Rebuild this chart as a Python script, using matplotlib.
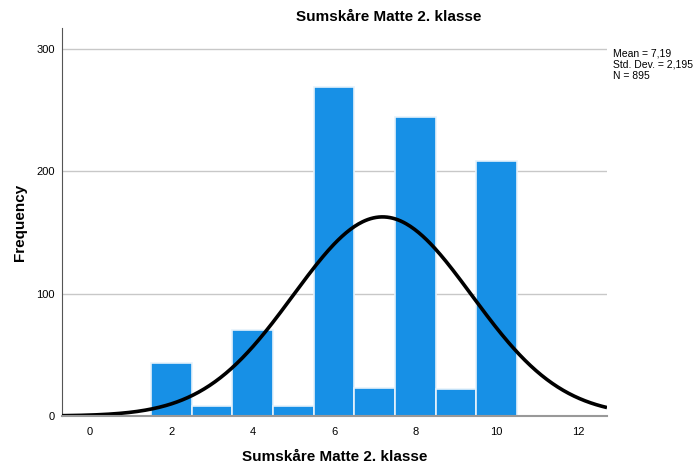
import numpy as np
import matplotlib
matplotlib.use("Agg")
import matplotlib.pyplot as plt

plt.rcParams['font.family'] = ['Liberation Sans', 'DejaVu Sans']

# Data
bin_centers = [2, 3, 4, 5, 6, 7, 8, 9, 10]
frequencies = [43, 8, 70, 8, 269, 23, 244, 22, 208]
mean_val = 7.19
std_val = 2.195
n_val = 895
x_ticks = [0, 2, 4, 6, 8, 10, 12]
y_ticks = [0, 100, 200, 300]

fig = plt.figure(figsize=(6.95, 4.65), dpi=100)
ax = fig.add_axes([62/695, 49/465, (607-62)/695, (416-28)/465])

ax.bar(bin_centers, frequencies, width=1.0, color='#1790E6', edgecolor='#E6F2FB',
       linewidth=1.2, zorder=2)

xs = np.linspace(-0.69, 12.71, 400)
ys = n_val * 1.0 / (std_val * np.sqrt(2 * np.pi)) * np.exp(-0.5 * ((xs - mean_val) / std_val) ** 2)
ax.plot(xs, ys, color='black', linewidth=2.6, zorder=3, solid_capstyle='butt')

ax.set_xlim(-0.69, 12.71)
ax.set_ylim(0, 317)
ax.set_xticks(x_ticks)
ax.set_yticks(y_ticks)
ax.tick_params(length=0, labelsize=8, pad=8)
ax.tick_params(axis='y', pad=5)
for y in y_ticks[1:]:
    ax.axhline(y, color='#C8C8C8', linewidth=1.0, zorder=1)

for s in ['top', 'right']:
    ax.spines[s].set_visible(False)
ax.spines['left'].set_color('#555555')
ax.spines['left'].set_linewidth(0.8)
ax.spines['bottom'].set_color('#999999')
ax.spines['bottom'].set_linewidth(1.5)
ax.spines['bottom'].set_zorder(4)

ax.set_xlabel('Sumskåre Matte 2. klasse', fontsize=11, fontweight='bold', labelpad=9)
ax.set_ylabel('Frequency', fontsize=11, fontweight='bold', labelpad=7)

fig.text(389/695, 1 - 17/465, 'Sumskåre Matte 2. klasse', ha='center', va='center',
         fontsize=11, fontweight='bold')
fig.text(613/695, 1 - 49/465, 'Mean = 7,19\nStd. Dev. = 2,195\nN = 895', ha='left', va='top',
         fontsize=7.5, linespacing=1.1)

fig.savefig('out.png', dpi=100)
